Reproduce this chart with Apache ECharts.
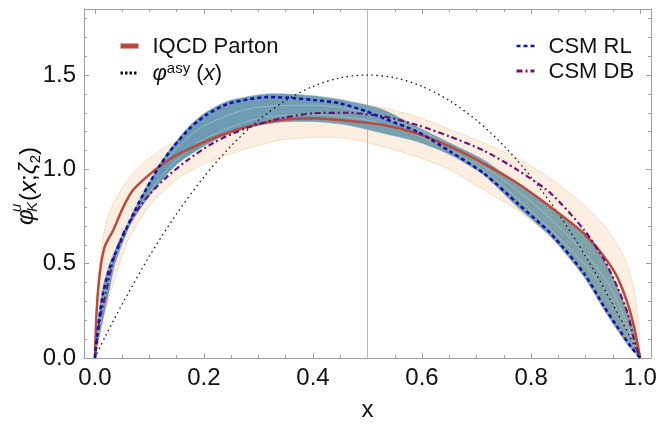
<!DOCTYPE html>
<html><head><meta charset="utf-8">
<script src="https://cdn.jsdelivr.net/npm/echarts@6/dist/echarts.min.js"></script>
<style>html,body{margin:0;padding:0;background:#fff}#c{width:658px;height:424px}</style>
</head><body><div id="c"></div>
<script>
// ---- tick values / labels ----
const xMajor = [0, 0.2, 0.4, 0.6, 0.8, 1.0];
const xMinor = [0.05,0.1,0.15,0.25,0.3,0.35,0.45,0.5,0.55,0.65,0.7,0.75,0.85,0.9,0.95];
const yMajor = [0, 0.5, 1.0, 1.5];
const yMinor = [0.1,0.2,0.3,0.4,0.6,0.7,0.8,0.9,1.1,1.2,1.3,1.4,1.6,1.7,1.8];
const xTickLabels = ['0.0','0.2','0.4','0.6','0.8','1.0'];
const yTickLabels = ['0.0','0.5','1.0','1.5'];

// ---- phi asy (black dotted) ----
const asyX = [0,0.02,0.05,0.1,0.15,0.2,0.25,0.3,0.35,0.4,0.45,0.5,0.55,0.6,0.65,0.7,0.75,0.8,0.85,0.9,0.95,0.98,1];
const asyY = [0,0.12,0.285,0.54,0.765,0.96,1.125,1.26,1.365,1.44,1.485,1.5,1.485,1.44,1.365,1.26,1.125,0.96,0.765,0.54,0.285,0.12,0];

// ---- IQCD Parton (red line) ----
const redX = [0,0.003,0.009,0.018,0.034,0.052,0.07,0.095,0.125,0.156,0.217,0.279,0.34,0.401,0.462,0.53,0.591,0.652,0.713,0.775,0.836,0.897,0.934,0.958,0.977,0.989,1];
const redY = [0,0.24,0.45,0.59,0.68,0.80,0.89,0.96,1.03,1.085,1.165,1.226,1.262,1.271,1.258,1.235,1.19,1.12,1.03,0.926,0.80,0.66,0.537,0.43,0.29,0.166,0];

// ---- IQCD band (orange) ----
const bandUpX = [0,0.002,0.006,0.012,0.021,0.034,0.052,0.077,0.101,0.13,0.16,0.22,0.28,0.34,0.4,0.46,0.52,0.59,0.652,0.713,0.775,0.836,0.897,0.94,0.971,0.989,0.998,1];
const bandUpY = [0,0.22,0.42,0.58,0.72,0.82,0.91,1.0,1.06,1.12,1.17,1.25,1.30,1.335,1.355,1.35,1.33,1.28,1.21,1.14,1.06,0.95,0.81,0.68,0.53,0.36,0.15,0];
const bandLoX = [0,0.01,0.03,0.06,0.095,0.113,0.156,0.217,0.279,0.34,0.401,0.462,0.53,0.591,0.652,0.713,0.775,0.836,0.897,0.934,0.958,0.98,1];
const bandLoY = [0,0.15,0.36,0.62,0.79,0.85,0.96,1.05,1.11,1.156,1.17,1.165,1.12,1.067,0.997,0.89,0.785,0.643,0.467,0.307,0.184,0.08,0];

// ---- teal band ----
const tealUpX = [0,0.006,0.015,0.028,0.043,0.073,0.095,0.119,0.144,0.175,0.205,0.242,0.279,0.315,0.352,0.401,0.45,0.5,0.53,0.591,0.652,0.713,0.775,0.836,0.897,0.934,0.958,0.983,1];
const tealUpY = [0,0.2,0.38,0.51,0.61,0.79,0.91,1.03,1.13,1.235,1.305,1.36,1.385,1.40,1.40,1.39,1.37,1.34,1.315,1.226,1.138,1.05,0.926,0.80,0.66,0.52,0.378,0.2,0];
const tealLoX = [0,0.01,0.025,0.037,0.064,0.095,0.125,0.156,0.217,0.279,0.34,0.401,0.462,0.53,0.591,0.652,0.713,0.775,0.836,0.897,0.934,0.958,0.98,1];
const tealLoY = [0,0.14,0.34,0.50,0.70,0.84,0.95,1.04,1.15,1.22,1.25,1.253,1.235,1.19,1.147,1.076,0.97,0.80,0.643,0.43,0.255,0.148,0.06,0];
// light curves visible inside the teal band
const tealInAX = [0,0.02,0.05,0.1,0.15,0.2,0.3,0.4,0.5,0.6,0.7,0.8,0.9,0.95,1];
const tealInAY = [0,0.33,0.63,0.88,1.05,1.16,1.27,1.29,1.26,1.17,1.02,0.78,0.49,0.30,0];
const tealInBX = [0,0.02,0.05,0.1,0.15,0.2,0.3,0.4,0.5,0.6,0.7,0.8,0.9,0.95,1];
const tealInBY = [0,0.38,0.68,0.94,1.11,1.23,1.33,1.34,1.30,1.20,1.04,0.83,0.55,0.35,0];

// ---- CSM RL (blue dashed) ----
const rlX = [0,0.006,0.015,0.028,0.043,0.073,0.095,0.119,0.144,0.175,0.205,0.242,0.279,0.315,0.352,0.401,0.45,0.499,0.53,0.591,0.652,0.713,0.775,0.836,0.897,0.934,0.958,0.983,1];
const rlY = [0,0.166,0.343,0.484,0.59,0.78,0.90,1.02,1.12,1.22,1.29,1.345,1.37,1.383,1.38,1.368,1.35,1.306,1.27,1.2,1.094,0.98,0.82,0.66,0.449,0.272,0.166,0.06,0];

// ---- CSM DB (purple dash-dot) ----
const dbX = [0,0.009,0.02,0.034,0.052,0.077,0.101,0.132,0.168,0.217,0.279,0.34,0.401,0.462,0.53,0.591,0.652,0.713,0.775,0.836,0.897,0.934,0.958,0.977,0.989,1];
const dbY = [0,0.2,0.343,0.52,0.66,0.78,0.87,0.96,1.045,1.14,1.22,1.27,1.297,1.30,1.28,1.235,1.173,1.10,0.997,0.873,0.68,0.52,0.378,0.237,0.095,0];

const vLineX = [0.5, 0.5];
const vLineY = [0, 1.85];

// ------------------------------------------------------------
const FONT = '"Liberation Sans", Arial, sans-serif';
const AX = '#a0a0a0';
const pairs = (xs, ys) => xs.map((x, i) => [x, ys[i]]);
const XMIN = -0.02, XMAX = 1.02, YMIN = 0, YMAX = 1.85;

function xAx(pos, major, withLabel) {
  return {
    type: 'value', min: XMIN, max: XMAX, position: pos,
    axisLine: { show: major, onZero: false, lineStyle: { color: AX, width: 1 } },
    axisTick: { show: true, inside: true, length: major ? 5 : 3, customValues: major ? xMajor : xMinor, lineStyle: { color: AX } },
    axisLabel: withLabel ? { show: true, customValues: xMajor, formatter: v => xTickLabels[xMajor.findIndex(m => Math.abs(m - v) < 1e-6)], fontSize: 24, fontFamily: FONT, color: '#111', margin: 8 } : { show: false },
    splitLine: { show: false },
    ...(withLabel ? { name: 'x', nameLocation: 'middle', nameGap: 40, nameTextStyle: { fontSize: 24, fontFamily: FONT, color: '#111' } } : {})
  };
}
function yAx(pos, major, withLabel) {
  return {
    type: 'value', min: YMIN, max: YMAX, position: pos,
    axisLine: { show: major, onZero: false, lineStyle: { color: AX, width: 1 } },
    axisTick: { show: true, inside: true, length: major ? 5 : 3, customValues: major ? yMajor : yMinor, lineStyle: { color: AX } },
    axisLabel: withLabel ? { show: true, customValues: yMajor, formatter: v => yTickLabels[yMajor.findIndex(m => Math.abs(m - v) < 1e-6)], fontSize: 24, fontFamily: FONT, color: '#111', margin: 8 } : { show: false },
    splitLine: { show: false }
  };
}

function band(name, upX, upY, loX, loY, style, z) {
  return {
    type: 'custom', name: name, xAxisIndex: 0, yAxisIndex: 0, z: z, silent: true,
    data: [[0, 0]], clip: true,
    renderItem: (params, api) => {
      const pts = [];
      for (let i = 0; i < upX.length; i++) pts.push(api.coord([upX[i], upY[i]]));
      for (let i = loX.length - 1; i >= 0; i--) pts.push(api.coord([loX[i], loY[i]]));
      return { type: 'polygon', shape: { points: pts, smooth: 0.25 }, style: style };
    }
  };
}
function thin(name, xs, ys, z) {
  return { type: 'line', name: name, data: pairs(xs, ys), symbol: 'none', smooth: 0.3, silent: true, z: z,
    lineStyle: { color: 'rgba(200,215,212,0.55)', width: 0.8 } };
}

const legendRich = {
  i: { fontSize: 22, fontStyle: 'italic', fontFamily: FONT, color: '#111', verticalAlign: 'bottom', lineHeight: 24 },
  sup: { fontSize: 15, fontFamily: FONT, color: '#111', verticalAlign: 'top', lineHeight: 24, padding: [0, 0, 8, 0] },
  n: { fontSize: 22, fontFamily: FONT, color: '#111', verticalAlign: 'bottom', lineHeight: 24 }
};
const legendCommon = {
  orient: 'vertical', top: 31, itemWidth: 18, itemHeight: 14, itemGap: 3, selectedMode: false,
  itemStyle: { color: 'rgba(0,0,0,0)', borderWidth: 0, opacity: 0 },
  textStyle: { fontFamily: FONT, fontSize: 22, color: '#111', padding: [0, 0, 0, 9], rich: legendRich }
};

const option = {
  animation: false,
  backgroundColor: '#fff',
  grid: { left: 84, right: 7, top: 9, bottom: 66, containLabel: false, outerBoundsMode: 'none' },
  xAxis: [xAx('bottom', true, true), xAx('bottom', false, false), xAx('top', true, false), xAx('top', false, false)],
  yAxis: [yAx('left', true, true), yAx('left', false, false), yAx('right', true, false), yAx('right', false, false)],
  legend: [
    Object.assign({}, legendCommon, {
      left: 113,
      data: [{ name: 'IQCD Parton', lineStyle: { width: 5 } }, { name: 'asy', lineStyle: { width: 3, type: [2.5, 2] } }],
      formatter: n => n === 'asy' ? '{i|φ}{sup|asy} {n|(}{i|x}{n|)}' : '{n|' + n + '}'
    }),
    Object.assign({}, legendCommon, {
      left: 510,
      data: [{ name: 'CSM RL', lineStyle: { width: 2.5 } }, { name: 'CSM DB', lineStyle: { width: 3 } }],
      formatter: n => '{n|' + n + '}'
    })
  ],
  graphic: [{
    type: 'group', x: 26, y: 177, rotation: Math.PI / 2,
    children: [
      { type: 'text', x: -48, y: 0, style: { text: 'φ', font: 'italic 24px ' + FONT, fill: '#111', verticalAlign: 'middle', align: 'left' } },
      { type: 'text', x: -35, y: -9, style: { text: 'u', font: 'italic 15px ' + FONT, fill: '#111', verticalAlign: 'middle', align: 'left' } },
      { type: 'text', x: -35, y: 7, style: { text: 'K', font: 'italic 15px ' + FONT, fill: '#111', verticalAlign: 'middle', align: 'left' } },
      { type: 'text', x: -24, y: 0, style: {
          text: '{n|(}{i|x}{n|;}{i|ζ}{s|2}{n|)}', verticalAlign: 'middle', align: 'left',
          rich: {
            n: { fontSize: 24, fontFamily: FONT, color: '#111', verticalAlign: 'bottom', lineHeight: 30 },
            i: { fontSize: 24, fontFamily: FONT, fontStyle: 'italic', color: '#111', verticalAlign: 'bottom', lineHeight: 30 },
            s: { fontSize: 15, fontFamily: FONT, color: '#111', verticalAlign: 'bottom', lineHeight: 30, padding: [0, 0, -2, 0] }
          } } }
    ]
  }],
  series: [
    band('IQCD band', bandUpX, bandUpY, bandLoX, bandLoY, { fill: '#fcefe2', stroke: '#f3d6b4', lineWidth: 0.8 }, 1),
    { type: 'line', name: 'vline', data: pairs(vLineX, vLineY), symbol: 'none', silent: true, z: 2,
      lineStyle: { color: '#b8b8b8', width: 1 } },
    band('teal band', tealUpX, tealUpY, tealLoX, tealLoY, {
      fill: { type: 'linear', x: 0, y: 0, x2: 1, y2: 0, colorStops: [{ offset: 0, color: 'rgb(100,152,180)' }, { offset: 0.5, color: 'rgb(118,160,178)' }, { offset: 1, color: 'rgb(130,162,166)' }] },
      stroke: 'rgba(120,165,185,0.8)', lineWidth: 0.6 }, 3),
    thin('inA', tealInAX, tealInAY, 3),
    thin('inB', tealInBX, tealInBY, 3),
    { type: 'line', name: 'asy', data: pairs(asyX, asyY), symbol: 'none', smooth: 0.3, z: 4,
      lineStyle: { color: '#111', width: 1.3, type: [1.5, 3.5] }, itemStyle: { color: '#111' } },
    { type: 'line', name: 'IQCD Parton', data: pairs(redX, redY), symbol: 'none', smooth: 0.25, z: 5,
      lineStyle: { color: '#bb4a3c', width: 2.5 }, itemStyle: { color: '#b04444' } },
    { type: 'line', name: 'CSM DB', data: pairs(dbX, dbY), symbol: 'none', smooth: 0.25, z: 6,
      lineStyle: { color: '#6e126e', width: 2.2, type: [6, 3, 2, 3] }, itemStyle: { color: '#6e126e' } },
    { type: 'line', name: 'CSM RL', data: pairs(rlX, rlY), symbol: 'none', smooth: 0.25, z: 7,
      lineStyle: { color: '#1414aa', width: 2.6, type: [4, 3] }, itemStyle: { color: '#1414aa' } }
  ]
};
const chart = echarts.init(document.getElementById('c'), null, { renderer: 'canvas' });
chart.setOption(option);
</script></body></html>
